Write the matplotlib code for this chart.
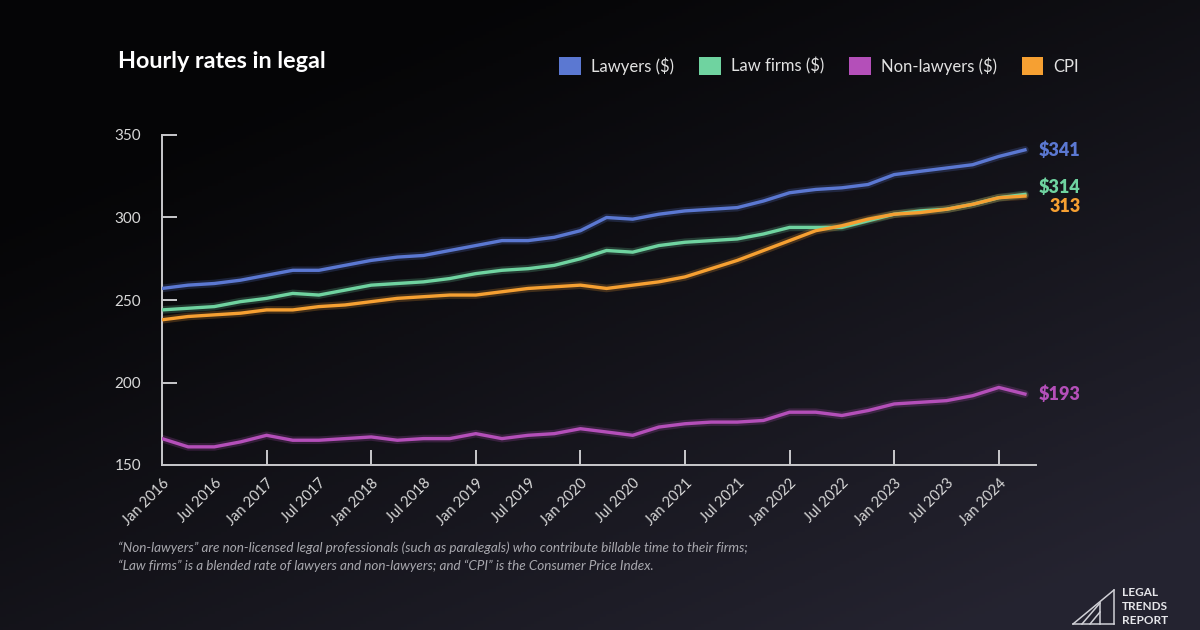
import numpy as np
import matplotlib
matplotlib.use("Agg")
import matplotlib.pyplot as plt
from matplotlib.patches import Patch
from matplotlib.lines import Line2D

# ---------------- data (quarterly, Jan 2016 .. Apr 2024) ----------------
quarters = [2016 + 0.25 * i for i in range(34)]
lawyers = [257, 259, 260, 262, 265, 268, 268, 271, 274, 276, 277, 280, 283, 286, 286, 288,
           292, 300, 299, 302, 304, 305, 306, 310, 315, 317, 318, 320, 326, 328, 330, 332, 337, 341]
law_firms = [244, 245, 246, 249, 251, 254, 253, 256, 259, 260, 261, 263, 266, 268, 269, 271,
             275, 280, 279, 283, 285, 286, 287, 290, 294, 294, 294, 298, 302, 304, 305, 308, 312, 314]
non_lawyers = [166, 161, 161, 164, 168, 165, 165, 166, 167, 165, 166, 166, 169, 166, 168, 169,
               172, 170, 168, 173, 175, 176, 176, 177, 182, 182, 180, 183, 187, 188, 189, 192, 197, 193]
cpi = [238, 240, 241, 242, 244, 244, 246, 247, 249, 251, 252, 253, 253, 255, 257, 258,
       259, 257, 259, 261, 264, 269, 274, 280, 286, 292, 295, 299, 302, 303, 305, 308, 312, 313]

series_names = ["Lawyers ($)", "Law firms ($)", "Non-lawyers ($)", "CPI"]
series_values = [lawyers, law_firms, non_lawyers, cpi]
end_labels = ["$341", "$314", "$193", "313"]
colors = ["#5b78d2", "#6fd3a0", "#b44fb9", "#f6a032"]

tick_years = [2016 + 0.5 * k for k in range(17)]
tick_labels = [("Jan " if k % 2 == 0 else "Jul ") + str(2016 + k // 2) for k in range(17)]
yticks = [150, 200, 250, 300, 350]

FONT = ["Lato", "DejaVu Sans"]
plt.rcParams["font.family"] = FONT

W, H = 1200, 630
fig = plt.figure(figsize=(W / 100, H / 100), dpi=100)

# ---------------- background gradient ----------------
bg = fig.add_axes([0, 0, 1, 1], zorder=-10)
yy, xx = np.mgrid[0:1:200j, 0:1:380j]
t = np.clip(0.62 * xx + 0.75 * yy - 0.25, 0, 1) ** 1.1
c0 = np.array([0.02, 0.02, 0.025])
c1 = np.array([0.145, 0.14, 0.19])
img = c0[None, None, :] * (1 - t[..., None]) + c1[None, None, :] * t[..., None]
bg.imshow(img, aspect="auto", extent=[0, 1, 0, 1], origin="upper")
bg.set_axis_off()

# ---------------- main axes ----------------
ax = fig.add_axes([162 / W, 1 - 465 / H, (1036 - 162) / W, (465 - 135) / H])
ax.set_facecolor("none")
for vals, col in zip(series_values, colors):
    ax.plot(quarters, vals, color=col, lw=5.5, alpha=0.22, solid_capstyle="round", zorder=2)
    ax.plot(quarters, vals, color=col, lw=2.4, solid_joinstyle="round", zorder=3)

ax.set_xlim(2016, 2016 + (1036 - 162) / 104.6)
ax.set_ylim(150, 350)

axis_col = "#c9c9cc"
for s in ["top", "right"]:
    ax.spines[s].set_visible(False)
for s in ["left", "bottom"]:
    ax.spines[s].set_color(axis_col)
    ax.spines[s].set_linewidth(1.4)

ax.set_yticks(yticks)
ax.set_yticklabels([str(v) for v in yticks])
ax.tick_params(axis="y", direction="in", length=11, width=1.4, color=axis_col,
               labelcolor="#d8d8d8", labelsize=11, pad=15)
ax.set_xticks(tick_years)
ax.set_xticklabels(tick_labels, rotation=45, ha="right", va="top", rotation_mode="anchor")
ax.tick_params(axis="x", direction="in", length=11, width=1.4, color=axis_col,
               labelcolor="#d8d8d8", labelsize=10.5, pad=8)

# visible tick marks only at January
for tl, yr in zip(ax.xaxis.get_major_ticks(), tick_years):
    if not (yr == int(yr) and yr > 2016):
        tl.tick1line.set_visible(False)
ax.yaxis.get_major_ticks()[0].tick1line.set_visible(False)

# end labels
for vals, lab, col, dy in zip(series_values, end_labels, colors, [0, 4.5, 0, -6.5]):
    ax.annotate(lab, xy=(1, vals[-1] + dy), xycoords=("axes fraction", "data"),
                xytext=(32, 0), textcoords="offset points", ha="right", va="center",
                color=col, fontsize=13, fontweight="heavy")

# ---------------- title & legend ----------------
fig.text(118 / W, 1 - 62 / H, "Hourly rates in legal", color="white", fontsize=16.8,
         fontweight="bold", ha="left", va="center")

handles = [Patch(facecolor=c, edgecolor="none") for c in colors]
leg = fig.legend(handles, series_names, loc="center right", bbox_to_anchor=(1094 / W, 1 - 66 / H),
                 ncol=4, frameon=False, handlelength=1.3, handleheight=1.3, handletextpad=0.6,
                 columnspacing=1.5, fontsize=12, labelcolor="#e2e2e2")

# ---------------- footnote ----------------
fig.text(118 / W, 1 - 548 / H,
         "\u201cNon-lawyers\u201d are non-licensed legal professionals (such as paralegals) who contribute billable time to their firms;",
         color="#a8a8ae", fontsize=9.7, style="italic", ha="left", va="center")
fig.text(118 / W, 1 - 566 / H,
         "\u201cLaw firms\u201d is a blended rate of lawyers and non-lawyers; and \u201cCPI\u201d is the Consumer Price Index.",
         color="#a8a8ae", fontsize=9.7, style="italic", ha="left", va="center")

# ---------------- logo ----------------
def P(x, y):
    return x / W, 1 - y / H

logo_col = "#d0d0d6"
segs = [
    [(1073, 624), (1114, 590)], [(1114, 590), (1114, 624)], [(1073, 624), (1114, 624)],
    [(1082, 624), (1100, 603)], [(1100, 603), (1100, 624)],
    [(1090, 624), (1100, 612)],
]
for (a, b) in segs:
    xa, ya = P(*a)
    xb, yb = P(*b)
    fig.add_artist(Line2D([xa, xb], [ya, yb], color=logo_col, lw=1.1))
for k, word in enumerate(["LEGAL", "TRENDS", "REPORT"]):
    fig.text(1122 / W, 1 - (593 + 13.5 * k) / H, word, color="#e6e6ea", fontsize=8.5,
             fontweight="bold", ha="left", va="center")

fig.savefig("out.png", dpi=100)
